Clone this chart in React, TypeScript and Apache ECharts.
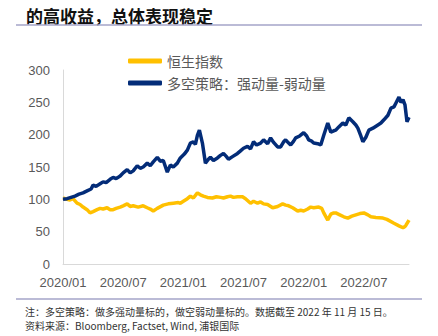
import React, { useEffect, useRef } from "react";
import * as echarts from "echarts";

// x positions in months since 2020/01
const navyMonths = [0,0.4,0.8,1.2,1.6,2.0,2.4,2.8,3.0,3.3,3.7,4.0,4.3,4.7,5.0,5.3,5.7,6.0,6.4,6.7,7.0,7.4,7.7,8.0,8.4,8.7,9.0,9.4,9.7,10.0,10.4,10.7,11.0,11.4,11.7,12.1,12.4,12.7,13.0,13.2,13.4,13.6,13.9,14.2,14.5,14.7,15.0,15.4,15.7,16.0,16.3,16.5,16.9,17.4,17.7,18.0,18.4,18.7,19.0,19.3,19.7,20.0,20.4,20.7,21.0,21.4,21.7,22.0,22.2,22.5,22.7,23.0,23.2,23.6,24.0,24.3,24.5,24.8,25.0,25.4,25.7,26.0,26.4,26.7,27.0,27.2,27.5,27.9,28.2,28.5,28.9,29.2,29.4,29.7,29.9,30.2,30.5,30.9,31.4,31.7,32.0,32.4,32.7,33.0,33.2,33.5,33.7,33.9,34.1,34.3,34.5];
const navyValues = [100,101,103,105,108,110,113,116,122,120,124,127,126,131,134,132,136,141,146,141,144,152,148,150,156,152,158,165,159,160,142,153,150,156,164,170,176,187,189,185,199,207,187,156,162,165,160,164,168,171,166,162,166,171,175,179,182,178,189,184,187,192,186,195,188,181,181,189,192,187,184,190,195,198,203,198,192,190,187,186,184,199,218,204,206,207,212,218,215,226,220,215,210,198,189,196,207,210,215,218,223,230,241,243,249,258,250,254,246,220,227];

const hsiMonths = [0,0.4,0.7,1.0,1.4,1.7,2.0,2.4,2.7,3.0,3.4,3.7,4.0,4.4,4.7,5.0,5.3,5.7,6.0,6.4,6.7,7.0,7.5,8.0,8.4,8.7,9.0,9.4,10.0,10.5,11.0,11.5,11.7,12.0,12.4,12.7,13.0,13.4,13.7,14.0,14.4,14.9,15.3,15.7,16.0,16.4,16.7,17.0,17.4,17.9,18.2,18.7,19.0,19.4,19.7,20.0,20.4,20.9,21.4,21.9,22.2,22.5,22.9,23.4,23.7,24.0,24.4,24.7,25.0,25.5,25.8,26.0,26.4,26.7,27.0,27.2,27.6,28.0,28.4,28.8,29.2,29.6,30.0,30.4,30.7,31.2,31.9,32.3,33.0,33.5,33.9,34.1,34.2,34.5];
const hsiValues = [102,100,99,101,94,92,88,84,79,81,84,86,85,87,84,84,86,88,90,93,89,90,88,90,87,85,82,86,91,93,94,95,94,97,101,105,102,110,107,105,103,102,104,103,102,104,105,103,104,104,101,94,97,94,96,93,92,87,89,93,91,90,87,82,83,82,85,88,87,88,86,79,68,77,79,79,76,73,71,74,76,78,79,76,73,72,71,69,63,59,56,58,60,68];

const xTickLabels = ["2020/01", "2020/07", "2021/01", "2021/07", "2022/01", "2022/07"];
const seriesNames = ["恒生指数", "多空策略：强动量-弱动量"];
const titleText = "的高收益，总体表现稳定";
const noteLine1 = "注：多空策略：做多强动量标的，做空弱动量标的。数据截至 2022 年 11 月 15 日。";
const noteLine2 = "资料来源：Bloomberg, Factset, Wind, 浦银国际";

export default function App() {
  const ref = useRef<HTMLDivElement>(null);
  useEffect(() => {
    if (!ref.current) return;
    const chart = echarts.init(ref.current, null, { renderer: "svg" });
    const cjk = '"Noto Sans CJK SC", sans-serif';
    const lat = '"Liberation Sans", Arial, sans-serif';
    chart.setOption({
      animation: false,
      backgroundColor: "#ffffff",
      grid: { left: 63, right: 29, top: 70, bottom: 72, containLabel: false },
      legend: {
        orient: "vertical",
        left: 123,
        top: 49,
        icon: "roundRect",
        itemWidth: 34,
        itemHeight: 5,
        itemGap: 8,
        data: seriesNames,
        textStyle: { fontFamily: cjk, fontSize: 14, color: "#595959", lineHeight: 14 },
      },
      xAxis: {
        type: "value",
        min: 0,
        max: 34.5,
        interval: 6,
        splitLine: { show: false },
        axisTick: { show: false },
        axisLine: { lineStyle: { color: "#d9d9d9", width: 1 } },
        axisLabel: {
          margin: 12,
          color: "#595959",
          fontSize: 13,
          fontFamily: lat,
          showMaxLabel: false,
          formatter: (v: number) => {
            const i = Math.round(v / 6);
            return Math.abs(v - i * 6) < 1e-6 && i < xTickLabels.length ? xTickLabels[i] : "";
          },
        },
      },
      yAxis: {
        type: "value",
        min: 0,
        max: 300,
        interval: 50,
        splitLine: { show: false },
        axisTick: { show: false },
        axisLine: { show: true, lineStyle: { color: "#d9d9d9", width: 1 } },
        axisLabel: { margin: 13, color: "#595959", fontSize: 13, fontFamily: lat },
      },
      series: [
        {
          name: seriesNames[0],
          type: "line",
          symbol: "none",
          data: hsiMonths.map((m, i) => [m, hsiValues[i]]),
          lineStyle: { color: "#FFC000", width: 3.5 },
          itemStyle: { color: "#FFC000" },
          z: 2,
        },
        {
          name: seriesNames[1],
          type: "line",
          symbol: "none",
          data: navyMonths.map((m, i) => [m, navyValues[i]]),
          lineStyle: { color: "#032c78", width: 3.5 },
          itemStyle: { color: "#032c78" },
          z: 3,
        },
      ],
      graphic: [
        {
          type: "text",
          x: 26,
          y: 15,
          style: { text: titleText, font: `bold 17px ${cjk}`, fill: "#111111", verticalAlign: "middle" },
        },
        {
          type: "line",
          shape: { x1: 16, y1: 25, x2: 422, y2: 25 },
          style: { stroke: "#a5a5c8", lineWidth: 1.5 },
        },
        {
          type: "line",
          shape: { x1: 16, y1: 299, x2: 422, y2: 299 },
          style: { stroke: "#a5a5c8", lineWidth: 1.5 },
        },
        {
          type: "text",
          x: 25,
          y: 311,
          style: { text: noteLine1, font: `10px ${cjk}`, fill: "#333333", verticalAlign: "middle", lineHeight: 10 },
        },
        {
          type: "text",
          x: 25,
          y: 325,
          style: { text: noteLine2, font: `10px ${cjk}`, fill: "#333333", verticalAlign: "middle", lineHeight: 10 },
        },
      ],
    });
    return () => chart.dispose();
  }, []);
  return (
    <div
      ref={ref}
      style={{ position: "fixed", left: 0, top: 0, width: 438, height: 336, background: "#fff" }}
    />
  );
}
